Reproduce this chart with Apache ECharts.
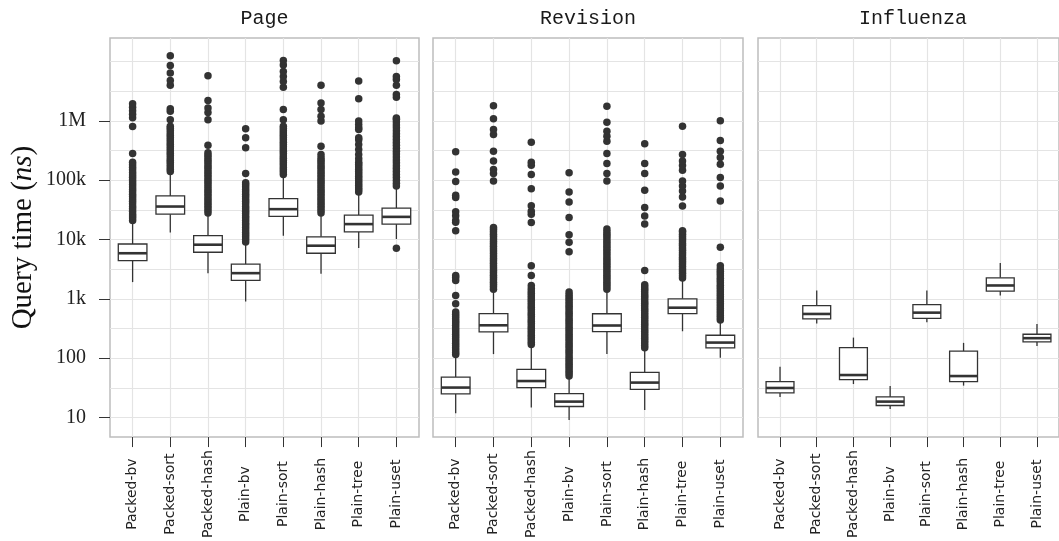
<!DOCTYPE html>
<html>
<head>
<meta charset="utf-8">
<script src="https://cdn.jsdelivr.net/npm/echarts@6/dist/echarts.min.js"></script>
<style>
html,body{margin:0;padding:0;background:#fff;}
#chart{width:1059px;height:541px;}
</style>
</head>
<body>
<div id="chart"></div>
<script>
const categories = ['Packed-bv','Packed-sort','Packed-hash','Plain-bv','Plain-sort','Plain-hash','Plain-tree','Plain-uset'];
const panelTitles = ['Page','Revision','Influenza'];
const yTickValues = [10, 100, 1000, 10000, 100000, 1000000];
const yTickLabels = ['10', '100', '1k', '10k', '100k', '1M'];

// box stats per category: [lower whisker, Q1, median, Q3, upper whisker]  (ns)
const pageBoxes = [
  [1915, 4410, 5870, 8400, 19900],
  [13200, 26800, 36000, 54300, 134000],
  [2710, 6100, 8180, 11600, 26800],
  [904, 2040, 2710, 3840, 8630],
  [11600, 24500, 32500, 49100, 118000],
  [2640, 5870, 7870, 11100, 26800],
  [7200, 13500, 18200, 25800, 60300],
  [10200, 18200, 24100, 33800, 75100]
];
const revisionBoxes = [
  [11.8, 24.9, 31.9, 48, 110],
  [117, 277, 358, 562, 1380],
  [14.7, 31.9, 41.1, 64.6, 159],
  [9.1, 15.3, 18.5, 25.3, 46.9],
  [117, 280, 355, 560, 1380],
  [13.4, 29.8, 38.7, 57.5, 140],
  [284, 562, 709, 1000, 2120],
  [102, 149, 183, 243, 418]
];
const influenzaBoxes = [
  [22.2, 25.9, 31.4, 40.2, 71.7],
  [382, 458, 556, 766, 1380],
  [36.6, 43.4, 51.9, 151, 222],
  [13.9, 15.9, 18.5, 22.2, 33.9],
  [402, 469, 585, 796, 1380],
  [34.4, 40.2, 49.9, 131, 181],
  [1140, 1350, 1680, 2260, 4030],
  [161, 188, 217, 253, 378]
];

// outliers per category (ns)
const pageOutliers = [
  [21000,23000,25000,27000,30000,33000,36000,40000,44000,48000,53000,58000,64000,70000,77000,85000,93000,102000,112000,123000,135000,150000,165000,182000,200000,283000,802000,1130000,1300000,1490000,1700000,1950000],
  [140000,153000,167000,183000,200000,218000,238000,260000,284000,310000,339000,370000,404000,441000,482000,526000,575000,628000,686000,749000,811000,1050000,1450000,1600000,4000000,4800000,6400000,8600000,12600000],
  [28000,31000,34000,37000,41000,45000,49000,54000,59000,65000,71000,78000,86000,94000,103000,113000,124000,136000,150000,165000,181000,199000,218000,240000,263000,290000,390000,1050000,1380000,1650000,2200000,5760000],
  [9100,10000,11000,12000,13200,14500,16000,17500,19000,21000,23000,25000,27500,30000,33000,36000,40000,44000,48000,53000,58000,64000,70000,77000,84000,91000,130000,352000,519000,735000],
  [125000,137000,150000,164000,180000,197000,215000,235000,257000,281000,307000,336000,367000,401000,438000,479000,523000,572000,625000,683000,746000,811000,1050000,1550000,3700000,4600000,5600000,6800000,8800000,10400000],
  [28000,31000,34000,37000,41000,45000,49000,54000,59000,65000,71000,78000,86000,94000,103000,113000,124000,136000,150000,165000,181000,199000,218000,240000,272000,375000,1000000,1200000,1550000,2000000,4000000],
  [63000,69000,75000,82000,90000,98000,107000,117000,128000,140000,153000,168000,185000,200000,230000,272000,330000,400000,480000,519000,714000,765000,870000,1000000,2370000,4700000],
  [7100,80000,89000,100000,112000,125000,140000,157000,176000,197000,220000,247000,276000,309000,346000,388000,434000,486000,545000,610000,683000,765000,857000,960000,1070000,1120000,2500000,2800000,4000000,5000000,5600000,10300000]
];
const revisionOutliers = [
  [115,125,137,150,163,178,194,212,231,252,275,300,327,357,390,425,463,505,551,601,828,1140,2040,2300,2470,14100,19500,21000,25100,29300,51000,55800,94800,138000,302000],
  [1450,1600,1750,1900,2100,2300,2500,2750,3000,3300,3600,4000,4400,4800,5300,5800,6400,7000,7700,8500,9300,10200,11200,12300,13500,14800,16000,97000,130000,152000,210000,309000,589000,714000,1090000,1810000],
  [170,186,204,223,244,267,292,320,350,383,419,459,502,549,601,658,720,788,862,944,1030,1130,1240,1360,1490,1680,2470,3630,19400,26800,30000,37000,72000,125000,178000,200000,437000],
  [50,55,60,66,72,79,86,94,103,113,124,135,148,162,177,194,212,232,254,278,304,333,364,398,436,477,522,571,625,684,748,819,896,981,1070,1170,1300,6240,8970,12000,23600,43000,63400,134000],
  [1450,1600,1750,1900,2100,2300,2500,2750,3000,3300,3600,4000,4400,4800,5300,5800,6400,7000,7700,8500,9300,10200,11200,12300,13500,15000,97000,130000,192000,283000,455000,552000,670000,948000,1760000],
  [150,164,180,197,216,236,259,283,310,340,372,407,446,488,535,585,641,702,769,842,922,1010,1110,1210,1330,1450,1590,1730,3000,18200,25000,34700,67700,130000,192000,411000],
  [2250,2450,2700,2950,3200,3500,3850,4200,4600,5000,5500,6000,6600,7200,7900,8600,9400,10300,11300,12300,13500,14100,36900,52000,65900,80000,97000,147000,177000,210000,272000,811000],
  [440,480,525,575,630,690,755,826,905,990,1080,1180,1300,1420,1550,1700,1860,2040,2230,2440,2670,2920,3200,3630,7400,44800,80000,111000,185000,242000,309000,467000,1010000]
];
const influenzaOutliers = [[],[],[],[],[],[],[],[]];

const boxesByPanel = [pageBoxes, revisionBoxes, influenzaBoxes];
const outliersByPanel = [pageOutliers, revisionOutliers, influenzaOutliers];

const Y_MIN = 4.67, Y_MAX = 2.5e7;
const halfDecades = [];
for (let e = 1; e <= 7.001; e += 0.5) halfDecades.push(Math.pow(10, e));
const catIdx = categories.map((c, i) => i);

const grids = [
  {left: 110, top: 38, width: 309, height: 401},
  {left: 433, top: 38, width: 310, height: 401},
  {left: 758, top: 38, width: 310, height: 401}
].map(g => Object.assign(g, {show: true, borderColor: '#bdbdbd', borderWidth: 1.5, backgroundColor: '#fff', containLabel: false}));

const xAxes = grids.map((g, gi) => ({
  type: 'value', gridIndex: gi, min: -0.6, max: 7.6,
  axisLine: {show: false, onZero: false},
  axisTick: {show: true, length: 10, lineStyle: {color: '#333', width: 1}, customValues: catIdx},
  axisLabel: {show: true, rotate: 90, margin: 57, align: 'center', verticalAlign: 'middle',
    customValues: catIdx, hideOverlap: false,
    formatter: v => categories[Math.round(v)] || '',
    fontFamily: 'DejaVu Sans', fontSize: 14, color: '#222'},
  splitLine: {show: true, lineStyle: {color: '#e4e4e4', width: 1.2}}
}));

const yAxes = [];
// panel 1 labelled axis
yAxes.push({
  type: 'log', logBase: 10, gridIndex: 0, min: Y_MIN, max: Y_MAX, position: 'left',
  name: 'Query time ({i|ns})', nameLocation: 'middle', nameGap: 72, nameRotate: 90, nameMoveOverlap: false,
  nameTextStyle: {fontFamily: 'Liberation Serif', fontSize: 29, color: '#111',
    rich: {i: {fontFamily: 'Liberation Serif', fontStyle: 'italic', fontSize: 29, color: '#111'}}},
  axisLine: {show: false, onZero: false},
  axisTick: {show: true, length: 11, lineStyle: {color: '#333', width: 1}, customValues: yTickValues},
  axisLabel: {show: true, margin: 24, customValues: yTickValues,
    formatter: v => yTickLabels[Math.round(Math.log10(v)) - 1] || '',
    fontFamily: 'Liberation Serif', fontSize: 20, color: '#222'},
  splitLine: {show: false}
});
// gridline axes for each panel
for (let gi = 0; gi < 3; gi++) {
  yAxes.push({
    type: 'log', logBase: 10, gridIndex: gi, min: Y_MIN, max: Y_MAX, position: 'left',
    axisLine: {show: false, onZero: false},
    axisTick: {show: false, customValues: halfDecades},
    axisLabel: {show: false},
    splitLine: {show: true, lineStyle: {color: '#e4e4e4', width: 1.2}}
  });
}
const dataYAxis = [0, 2, 3];

function renderBox(params, api) {
  const x = api.value(0);
  const lo = api.coord([x, api.value(1)]);
  const q1 = api.coord([x, api.value(2)]);
  const med = api.coord([x, api.value(3)]);
  const q3 = api.coord([x, api.value(4)]);
  const hi = api.coord([x, api.value(5)]);
  const xl = api.coord([x - 0.38, api.value(3)])[0];
  const xr = api.coord([x + 0.38, api.value(3)])[0];
  const stroke = '#333';
  return {
    type: 'group',
    children: [
      {type: 'line', shape: {x1: hi[0], y1: hi[1], x2: q3[0], y2: q3[1]}, style: {stroke, lineWidth: 1.3}},
      {type: 'line', shape: {x1: lo[0], y1: lo[1], x2: q1[0], y2: q1[1]}, style: {stroke, lineWidth: 1.3}},
      {type: 'rect', shape: {x: xl, y: q3[1], width: xr - xl, height: q1[1] - q3[1]}, style: {fill: '#fff', stroke, lineWidth: 1.3}},
      {type: 'line', shape: {x1: xl, y1: med[1], x2: xr, y2: med[1]}, style: {stroke, lineWidth: 2.6}}
    ]
  };
}

const series = [];
for (let gi = 0; gi < 3; gi++) {
  const pts = [];
  outliersByPanel[gi].forEach((arr, i) => arr.forEach(v => pts.push([i, v])));
  series.push({
    type: 'scatter', xAxisIndex: gi, yAxisIndex: dataYAxis[gi], data: pts,
    symbol: 'circle', symbolSize: 7.5, itemStyle: {color: '#333', opacity: 1}, z: 2, silent: true
  });
  series.push({
    type: 'custom', xAxisIndex: gi, yAxisIndex: dataYAxis[gi],
    data: boxesByPanel[gi].map((b, i) => [i].concat(b)),
    encode: {x: 0, y: [1, 2, 3, 4, 5]},
    renderItem: renderBox, z: 3, silent: true
  });
}

const titleGraphics = panelTitles.map((t, gi) => ({
  type: 'text', x: grids[gi].left + grids[gi].width / 2, y: 19,
  style: {text: t, textAlign: 'center', textVerticalAlign: 'middle', font: '20px "Liberation Mono"', fill: '#1a1a1a'}
}));

const chart = echarts.init(document.getElementById('chart'), null, {renderer: 'canvas'});
chart.setOption({
  animation: false,
  backgroundColor: '#fff',
  grid: grids,
  xAxis: xAxes,
  yAxis: yAxes,
  series: series,
  graphic: titleGraphics
});
</script>
</body>
</html>
